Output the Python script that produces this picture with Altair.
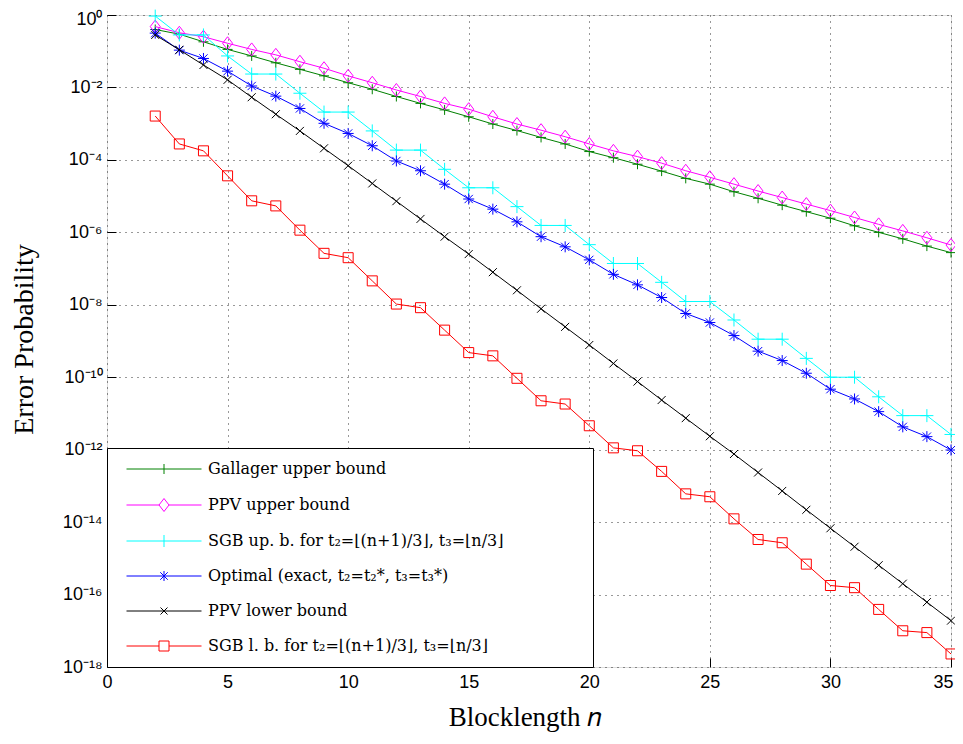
import altair as alt
import pandas as pd

# Blocklength values
n_values = list(range(2, 36))

# log10 of error probability
gallager_exp = [-0.40, -0.53, -0.74, -0.95, -1.13, -1.32, -1.50, -1.68, -1.87, -2.05,
                -2.25, -2.44, -2.62, -2.81, -3.01, -3.19, -3.38, -3.56, -3.77, -3.94,
                -4.12, -4.31, -4.51, -4.67, -4.88, -5.06, -5.25, -5.43, -5.61, -5.82,
                -6.00, -6.18, -6.38, -6.56]
ppv_upper_exp = [-0.32, -0.49, -0.60, -0.78, -0.95, -1.10, -1.29, -1.47, -1.68, -1.87,
                 -2.07, -2.25, -2.44, -2.60, -2.81, -3.01, -3.18, -3.36, -3.56, -3.75,
                 -3.91, -4.09, -4.30, -4.48, -4.67, -4.86, -5.04, -5.22, -5.40, -5.59,
                 -5.78, -5.96, -6.15, -6.35]
sgb_upper_exp = [-0.03, -0.55, -0.55, -1.13, -1.63, -1.63, -2.16, -2.68, -2.68, -3.20,
                 -3.73, -3.73, -4.26, -4.77, -4.77, -5.29, -5.81, -5.81, -6.34, -6.86,
                 -6.86, -7.38, -7.91, -7.91, -8.42, -8.95, -8.95, -9.48, -10.00, -10.00,
                 -10.54, -11.06, -11.06, -11.58]
optimal_exp = [-0.50, -0.97, -1.20, -1.55, -1.96, -2.24, -2.58, -2.99, -3.27, -3.61,
               -4.03, -4.30, -4.67, -5.08, -5.36, -5.71, -6.12, -6.40, -6.76, -7.16,
               -7.45, -7.80, -8.24, -8.49, -8.85, -9.28, -9.54, -9.89, -10.33, -10.60,
               -10.95, -11.37, -11.64, -12.01]
ppv_lower_exp = [-0.55, -0.96, -1.38, -1.79, -2.27, -2.74, -3.20, -3.68, -4.16, -4.65,
                 -5.14, -5.63, -6.12, -6.60, -7.10, -7.60, -8.11, -8.61, -9.11, -9.62,
                 -10.12, -10.63, -11.13, -11.63, -12.12, -12.63, -13.14, -13.66, -14.17, -14.68,
                 -15.19, -15.70, -16.21, -16.72]
sgb_lower_exp = [-2.79, -3.56, -3.75, -4.44, -5.13, -5.27, -5.94, -6.58, -6.70, -7.34,
                 -7.98, -8.08, -8.70, -9.32, -9.41, -10.03, -10.65, -10.74, -11.34, -11.95,
                 -12.03, -12.60, -13.22, -13.30, -13.91, -14.48, -14.57, -15.16, -15.75, -15.81,
                 -16.41, -17.00, -17.05, -17.64]

series_names = [
    "Gallager upper bound",
    "PPV upper bound",
    "SGB up. b. for t₂=⌊(n+1)/3⌋, t₃=⌊n/3⌋",
    "Optimal (exact, t₂=t₂*, t₃=t₃*)",
    "PPV lower bound",
    "SGB l. b. for t₂=⌊(n+1)/3⌋, t₃=⌊n/3⌋",
]
series_exps = [gallager_exp, ppv_upper_exp, sgb_upper_exp, optimal_exp, ppv_lower_exp, sgb_lower_exp]
series_colors = ["#008000", "#FF00FF", "#00FFFF", "#0000FF", "#000000", "#FF0000"]

# marker glyphs (unit square paths) and sizes
marker_paths = [
    "M-1,0H1M0,-1V1",
    "M0,-1.3L1,0L0,1.3L-1,0Z",
    "M-1,0H1M0,-1V1",
    "M-1,0H1M0,-1V1M-0.75,-0.75L0.75,0.75M-0.75,0.75L0.75,-0.75",
    "M-1,-1L1,1M-1,1L1,-1",
    "M-1,-1H1V1H-1Z",
]
marker_sizes = [100, 100, 169, 121, 64, 100]
legend_paths = [
    "M-7.5,0H7.5M0,-1V1",
    "M-7.5,0H-1M1,0H7.5M0,-1.3L1,0L0,1.3L-1,0Z",
    "M-7.5,0H7.5M0,-1.2V1.2",
    "M-7.5,0H7.5M0,-1V1M-0.75,-0.75L0.75,0.75M-0.75,0.75L0.75,-0.75",
    "M-7.5,0H7.5M-0.7,-0.7L0.7,0.7M-0.7,0.7L0.7,-0.7",
    "M-7.5,0H-1M1,0H7.5M-1,-1H1V1H-1Z",
]

x_ticks = [0, 5, 10, 15, 20, 25, 30, 35]
y_ticks = [10.0 ** (-k) for k in range(0, 19, 2)]

rows = []
for name, exps in zip(series_names, series_exps):
    for n, e in zip(n_values, exps):
        rows.append({"series": name, "n": n, "p": 10.0 ** e})
df = pd.DataFrame(rows)

tick_font = "Liberation Sans Narrow, Liberation Sans, Arial"
title_font = "Liberation Serif, Times New Roman, serif"
legend_font = "DejaVu Serif, serif"

sup_expr = ("'10' + replace(replace(replace(replace(replace(replace(replace("
            "'' + round(log(datum.value) / LN10), '-', '⁻'), '0', '⁰'), '1', '¹'), "
            "'2', '²'), '4', '⁴'), '6', '⁶'), '8', '⁸')")

# legend frame in the reference is wider than its labels: pad labels on the right
legend_pad = "\u00a0" * 15 + "\u200b"

x_enc = alt.X(
    "n:Q",
    scale=alt.Scale(domain=[0, 35], nice=False, zero=False),
    axis=alt.Axis(
        values=x_ticks, title="Blocklength 𝑛", grid=True, gridDash=[1, 5], gridColor="#000000",
        gridOpacity=0.8, domain=False, ticks=True, tickSize=9, offset=-9, tickColor="#000000",
        labelFlush=False, labelPadding=6, labelFont=tick_font, labelFontSize=18,
        labelColor="#000000",
        labelOffset={"condition": {"test": "datum.value == 35", "value": -8}, "value": 0},
        titleFont=title_font, titleFontSize=27, titleFontWeight="normal", titleColor="#000000",
        titleX=418, titleY=67, titleBaseline="alphabetic", titleAlign="center",
    ),
)
y_enc = alt.Y(
    "p:Q",
    scale=alt.Scale(type="log", domain=[1e-18, 1], nice=False),
    axis=alt.Axis(
        values=y_ticks, labelExpr=sup_expr, title="Error Probability", grid=True, gridDash=[1, 5],
        gridColor="#000000", gridOpacity=0.8, domain=False, ticks=True, tickSize=9, offset=-9,
        tickColor="#000000", labelFlush=False, labelPadding=5, labelFont=tick_font,
        labelFontSize=18, labelColor="#000000",
        labelOffset={"condition": {"test": "datum.value == 1", "value": 4}, "value": 0},
        titleFont=title_font, titleFontSize=28, titleFontWeight="normal",
        titleColor="#000000", titleX=-92, titleY=324, titleAngle=-90, titleBaseline="middle",
        titleAlign="center",
    ),
)

base = alt.Chart(df)
layers = []
for name, color, path, size in zip(series_names, series_colors, marker_paths, marker_sizes):
    sel = base.transform_filter(alt.datum.series == name)
    layers.append(sel.mark_line(color=color, strokeWidth=1, clip=True).encode(x=x_enc, y=y_enc))
    layers.append(
        sel.mark_point(shape=path, size=size, color=color, filled=False, strokeWidth=1, opacity=1)
        .encode(x=x_enc, y=y_enc)
    )

legend_def = alt.Legend(
    title=None, orient="bottom-left", offset=0, fillColor="white", strokeColor="black",
    padding=13, rowPadding=19, labelFont=legend_font, labelFontSize=16, labelColor="#000000",
    labelLimit=0, symbolSize=100, symbolStrokeWidth=1, symbolOffset=36, labelOffset=36,
    labelExpr="datum.label + '" + legend_pad + "'",
)
legend_layer = base.transform_filter("false").mark_point(filled=False, strokeWidth=1, opacity=1).encode(
    x=x_enc,
    y=y_enc,
    color=alt.Color("series:N", scale=alt.Scale(domain=series_names, range=series_colors), legend=legend_def),
    shape=alt.Shape("series:N", scale=alt.Scale(domain=series_names, range=legend_paths), legend=legend_def),
)
layers.append(legend_layer)

chart = alt.layer(*layers).properties(
    width=844, height=652,
    padding={"left": 99, "top": 7, "right": 4, "bottom": 65},
    autosize=alt.AutoSizeParams(type="none"),
).configure_view(stroke="black", strokeWidth=1).configure(background="white")

chart.save("out.html", embed_options={"renderer": "svg", "actions": False})
